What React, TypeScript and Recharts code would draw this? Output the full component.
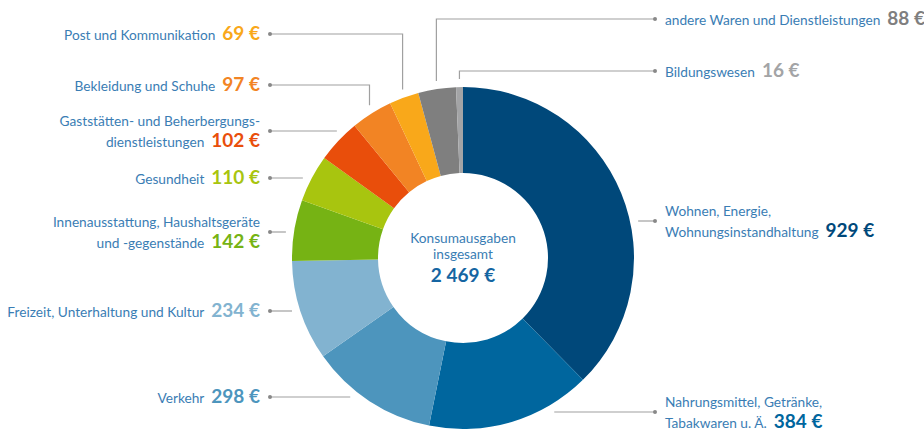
import { PieChart, Pie, Cell } from 'recharts';

const categories = [
  'Wohnen, Energie,\nWohnungsinstandhaltung',
  'Nahrungsmittel, Getränke,\nTabakwaren u. Ä.',
  'Verkehr',
  'Freizeit, Unterhaltung und Kultur',
  'Innenausstattung, Haushaltsgeräte\nund -gegenstände',
  'Gesundheit',
  'Gaststätten- und Beherbergungs-\ndienstleistungen',
  'Bekleidung und Schuhe',
  'Post und Kommunikation',
  'andere Waren und Dienstleistungen',
  'Bildungswesen',
];
const amounts = [929, 384, 298, 234, 142, 110, 102, 97, 69, 88, 16];
const centerTitle = ['Konsumausgaben', 'insgesamt'];

const SLICE_COLORS = [
  '#00487a', '#00669e', '#4d95bd', '#82b3d0', '#76b314', '#a8c50f',
  '#e94e0b', '#f28424', '#f9a81a', '#7f7f7f', '#a3a4a6',
];

// where each leader line sits; elbow = line turns down onto the ring
const LABEL_LAYOUT = [
  { side: 'right', y: 221, elbow: false },
  { side: 'right', y: 412, elbow: false },
  { side: 'left', y: 397, elbow: false },
  { side: 'left', y: 311, elbow: false },
  { side: 'left', y: 232, elbow: false },
  { side: 'left', y: 178, elbow: false },
  { side: 'left', y: 131, elbow: false },
  { side: 'left', y: 85, elbow: true },
  { side: 'left', y: 34, elbow: true },
  { side: 'right', y: 19, elbow: true },
  { side: 'right', y: 71, elbow: true },
];

const FONT = 'Lato, sans-serif';
const LABEL_SIZE = 13.7;
const TEXT_BLUE = '#3a7db4';
const LINE_GREY = '#a0a0a0';
const RAD = Math.PI / 180;

const data = categories.map((name, i) => ({ name, value: amounts[i] }));
const total = amounts.reduce((s, v) => s + v, 0);

const formatEuro = (v: number) =>
  `${v.toLocaleString('de-DE').replace('.', '\u202f')}\u00a0€`;

const renderLabel = (props: any) => {
  const { cx, cy, midAngle, outerRadius, index } = props;
  const layout = LABEL_LAYOUT[index];
  const left = layout.side === 'left';
  const y = layout.y;
  const dotX = left ? 270 : 655;
  const R = outerRadius + 8;
  let points: string;
  if (layout.elbow) {
    const ex = cx + (outerRadius + 4) * Math.cos(-midAngle * RAD);
    const ey = cy - Math.sqrt(R * R - (ex - cx) * (ex - cx));
    points = `${dotX},${y} ${ex},${y} ${ex},${ey}`;
  } else {
    const dy = y - cy;
    const ex = cx + (left ? -1 : 1) * Math.sqrt(R * R - dy * dy);
    points = `${dotX},${y} ${ex},${y}`;
  }
  const lines = categories[index].split('\n');
  const baselines = lines.length === 1 ? [y + 6] : [y - 5, y + 16];
  const textX = left ? 260 : 665;

  return (
    <g key={`lbl-${index}`}>
      <polyline points={points} fill="none" stroke={LINE_GREY} strokeWidth={1.2} />
      <circle cx={dotX} cy={y} r={2} fill="#888" />
      {lines.map((line, li) => (
        <text
          key={li}
          x={textX}
          y={baselines[li]}
          textAnchor={left ? 'end' : 'start'}
          fontFamily={FONT}
          fontSize={LABEL_SIZE}
          fill={TEXT_BLUE}
        >
          <tspan>{line}</tspan>
          {li === lines.length - 1 && (
            <tspan dx={7} fontSize={19} fontWeight={700} fill={SLICE_COLORS[index]}>
              {formatEuro(amounts[index])}
            </tspan>
          )}
        </text>
      ))}
    </g>
  );
};

export default function App() {
  return (
    <div style={{ position: 'absolute', left: 0, top: 0, background: '#fff' }}>
      <PieChart width={924} height={432} margin={{ top: 0, right: 0, bottom: 0, left: 0 }}>
        <Pie
          data={data}
          dataKey="value"
          nameKey="name"
          cx={463}
          cy={258}
          innerRadius={85}
          outerRadius={171}
          startAngle={90}
          endAngle={-270}
          stroke="none"
          label={renderLabel}
          labelLine={false}
          isAnimationActive={false}
        >
          {data.map((_, i) => (
            <Cell key={i} fill={SLICE_COLORS[i]} />
          ))}
        </Pie>
        <text x={463} y={243} textAnchor="middle" fontFamily={FONT} fontSize={LABEL_SIZE} fill={TEXT_BLUE}>
          {centerTitle[0]}
        </text>
        <text x={463} y={259} textAnchor="middle" fontFamily={FONT} fontSize={LABEL_SIZE} fill={TEXT_BLUE}>
          {centerTitle[1]}
        </text>
        <text x={463} y={282} textAnchor="middle" fontFamily={FONT} fontSize={19} fontWeight={700} fill="#1565a2">
          {formatEuro(total)}
        </text>
      </PieChart>
    </div>
  );
}
